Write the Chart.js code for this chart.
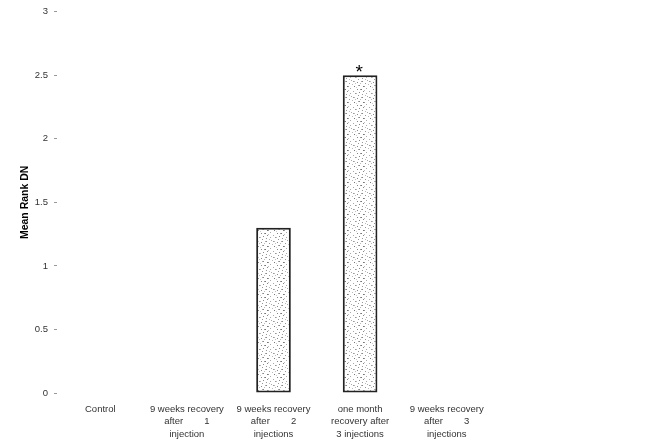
<!DOCTYPE html>
<html>
<head>
<meta charset="utf-8">
<script src="https://cdn.jsdelivr.net/npm/chart.js@4/dist/chart.umd.min.js"></script>
<style>
  html, body { margin: 0; padding: 0; background: #fff; }
  #wrap { width: 655px; height: 440px; }
</style>
</head>
<body>
<div id="wrap"><canvas id="c" width="655" height="440"></canvas></div>
<script>
// Groups and mean rank values
const categories = [
  ["Control"],
  ["9 weeks recovery", "after        1", "injection"],
  ["9 weeks recovery", "after        2", "injections"],
  ["one month", "recovery after", "3 injections"],
  ["9 weeks recovery", "after        3", "injections"]
];
const meanRank = [0, 0, 1.3, 2.5, 0];
const significant = [false, false, false, true, false];
const yTicks = [0, 0.5, 1, 1.5, 2, 2.5, 3];

// Stippled grey fill for the bars
function stipple() {
  const p = document.createElement('canvas');
  p.width = 16; p.height = 16;
  const g = p.getContext('2d');
  g.fillStyle = '#fff';
  g.fillRect(0, 0, 16, 16);
  const dots = [[1,1,'#999'],[2,1,'#bbb'],[5,2,'#888'],[9,1,'#aaa'],[10,1,'#888'],[13,3,'#999'],
                [6,5,'#aaa'],[7,5,'#888'],[2,6,'#777'],[11,6,'#777'],[12,6,'#999'],[14,8,'#aaa'],
                [5,9,'#888'],[8,9,'#999'],[9,9,'#777'],[1,11,'#aaa'],[11,11,'#888'],[3,13,'#999'],
                [4,13,'#bbb'],[7,12,'#888'],[10,14,'#999'],[14,13,'#aaa'],[0,4,'#bbb'],[15,0,'#aaa'],
                [3,3,'#bbb'],[12,10,'#bbb'],[6,15,'#999'],[8,3,'#bbb'],[13,15,'#bbb'],[4,7,'#ccc']];
  dots.forEach(([x, y, c]) => { g.fillStyle = c; g.fillRect(x, y, 1, 1); });
  return g.createPattern(p, 'repeat');
}

// Asterisk above significant bars
const starPlugin = {
  id: 'stars',
  afterDatasetsDraw(chart) {
    const ctx = chart.ctx;
    const meta = chart.getDatasetMeta(0);
    ctx.save();
    ctx.fillStyle = '#000';
    ctx.font = '19px "Liberation Sans", Arial, sans-serif';
    ctx.textAlign = 'center';
    ctx.textBaseline = 'bottom';
    meta.data.forEach((bar, i) => {
      if (significant[i]) ctx.fillText('*', bar.x - 1, bar.y + 7);
    });
    ctx.restore();
  }
};

const font = { family: '"Liberation Sans", Arial, sans-serif', size: 9.5, lineHeight: 1.3 };

new Chart(document.getElementById('c'), {
  type: 'bar',
  data: {
    labels: categories,
    datasets: [{
      data: meanRank,
      backgroundColor: stipple(),
      borderColor: '#222',
      borderWidth: 2,
      borderSkipped: false,
      barPercentage: 0.4,
      categoryPercentage: 1
    }]
  },
  options: {
    responsive: false,
    animation: false,
    layout: { padding: { left: 0, right: 165, top: 10, bottom: 0 } },
    plugins: { legend: { display: false }, tooltip: { enabled: false } },
    scales: {
      x: {
        grid: { display: false },
        border: { display: false },
        ticks: { color: '#333', font: font, padding: 2, maxRotation: 0, autoSkip: false },
        afterFit(s) { s.height = 47; }
      },
      y: {
        min: 0, max: 3,
        afterBuildTicks(s) { s.ticks = yTicks.map(v => ({ value: v })); },
        grid: { drawOnChartArea: false, tickLength: 3, color: '#999', tickColor: '#999' },
        border: { display: false },
        ticks: { color: '#333', font: { family: font.family, size: 9.5 }, padding: 6, callback: v => String(v) },
        title: {
          display: true, text: 'Mean Rank DN', color: '#000',
          font: { family: font.family, size: 10.5, weight: 'bold' }, padding: { top: 19, bottom: 0 }
        },
        afterFit(s) { s.width = 57; }
      }
    }
  },
  plugins: [starPlugin]
});
</script>
</body>
</html>
